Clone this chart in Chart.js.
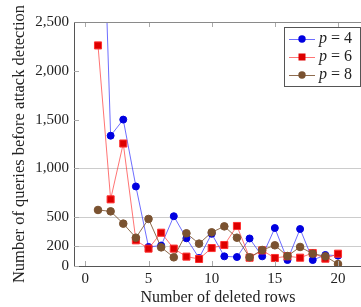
<!DOCTYPE html>
<html>
<head>
<meta charset="utf-8">
<script src="https://cdn.jsdelivr.net/npm/chart.js@4/dist/chart.umd.min.js"></script>
<style>
  body { margin: 0; overflow: hidden; background: #fff; }
  #wrap { width: 368px; height: 307px; }
</style>
</head>
<body>
<div id="wrap"><canvas id="c" width="368" height="307"></canvas></div>
<script>
// data
const rows = [1,2,3,4,5,6,7,8,9,10,11,12,13,14,15,16,17,18,19,20];
const p4 = [5400,1335,1500,815,195,210,510,284,82,330,99,92,282,99,389,61,379,61,113,106];
const p6 = [2260,683,1255,263,178,341,178,96,72,184,215,410,85,160,82,100,85,133,75,126];
const p8 = [574,560,434,290,482,191,89,335,229,345,406,290,89,164,212,102,195,126,99,20];
const xTicks = [0,5,10,15,20];
const yTicks = [0,200,500,1000,1500,2000,2500];
const gridY = [200,500,1000];
const labels = ['4','6','8'];

const FONT = "'Liberation Serif', 'DejaVu Serif', serif";

function pts(vals) {
  return rows.map((r, i) => ({x: r, y: vals[i]}));
}

const colBlue = '#0000e0', colRed = '#dd0000', colBrown = '#7a5230';

const sets = [
  {label: 'p = 4', data: pts(p4), borderColor: 'rgba(60,60,255,0.75)', backgroundColor: colBlue,
   pointBackgroundColor: colBlue, pointBorderColor: colBlue, pointStyle: 'circle', pointRadius: 3.5, order: 2},
  {label: 'p = 6', data: pts(p6), borderColor: 'rgba(255,70,70,0.75)', backgroundColor: colRed,
   pointBackgroundColor: colRed, pointBorderColor: '#ff3030', pointStyle: 'rect', pointRadius: 5, order: 1},
  {label: 'p = 8', data: pts(p8), borderColor: 'rgba(122,82,48,0.85)', backgroundColor: colBrown,
   pointBackgroundColor: colBrown, pointBorderColor: colBrown, pointStyle: 'circle', pointRadius: 3.8, order: 0}
];
sets.forEach(s => { s.borderWidth = 1; s.pointBorderWidth = 1; s.tension = 0; s.fill = false; });

const extras = {
  id: 'extras',
  afterDraw(chart) {
    const ctx = chart.ctx, a = chart.chartArea;
    const xs = chart.scales.x, ys = chart.scales.y;
    ctx.save();
    // inner tick marks
    ctx.strokeStyle = '#aaaaaa';
    ctx.lineWidth = 1;
    ctx.beginPath();
    xTicks.forEach(v => {
      const x = Math.round(xs.getPixelForValue(v)) + 0.5;
      ctx.moveTo(x, a.bottom); ctx.lineTo(x, a.bottom - 5);
      ctx.moveTo(x, a.top); ctx.lineTo(x, a.top + 5);
    });
    yTicks.forEach(v => {
      const y = Math.round(ys.getPixelForValue(v)) + 0.5;
      ctx.moveTo(a.left, y); ctx.lineTo(a.left + 5, y);
    });
    ctx.stroke();
    // top border
    ctx.strokeStyle = '#8a8a8a';
    ctx.beginPath();
    ctx.moveTo(a.left, a.top + 0.5); ctx.lineTo(a.right, a.top + 0.5);
    ctx.stroke();

    // axis titles
    ctx.fillStyle = '#222';
    ctx.font = '16px ' + FONT;
    ctx.textAlign = 'center';
    ctx.textBaseline = 'middle';
    ctx.fillText('Number of deleted rows', (a.left + a.right) / 2, 298);
    ctx.save();
    ctx.translate(20, (a.top + a.bottom) / 2);
    ctx.rotate(-Math.PI / 2);
    ctx.font = '16.5px ' + FONT;
    ctx.fillText('Number of queries before attack detection', 0, 0);
    ctx.restore();

    // legend
    const lx = 284, ly = 27, lw = 77, lh = 60;
    ctx.fillStyle = '#fff';
    ctx.fillRect(lx, ly, lw, lh);
    ctx.strokeStyle = '#555';
    ctx.strokeRect(lx + 0.5, ly + 0.5, lw - 1, lh - 1);
    sets.forEach((s, i) => {
      const cy = 39 + i * 18;
      ctx.strokeStyle = s.borderColor;
      ctx.beginPath();
      ctx.moveTo(289, cy + 0.5); ctx.lineTo(315, cy + 0.5);
      ctx.stroke();
      ctx.fillStyle = s.pointBackgroundColor;
      if (s.pointStyle === 'rect') {
        ctx.fillRect(298.5, cy - 3.5, 7, 7);
      } else {
        ctx.beginPath(); ctx.arc(302, cy, 3.7, 0, Math.PI * 2); ctx.fill();
      }
      ctx.fillStyle = '#222';
      ctx.textAlign = 'left';
      ctx.font = 'italic 16px ' + FONT;
      ctx.fillText('p', 319, cy);
      const pw = ctx.measureText('p').width;
      ctx.font = '16px ' + FONT;
      ctx.fillText(' = ' + labels[i], 319 + pw, cy);
    });
    ctx.restore();
  }
};

new Chart(document.getElementById('c'), {
  type: 'line',
  data: { datasets: sets },
  options: {
    responsive: false,
    animation: false,
    layout: { padding: { top: 22, right: 1, left: 0, bottom: 0 } },
    plugins: { legend: { display: false }, tooltip: { enabled: false } },
    scales: {
      x: {
        type: 'linear', min: -0.9, max: 21.9,
        afterBuildTicks: s => { s.ticks = xTicks.map(v => ({value: v})); },
        afterFit: s => { s.height = 41; },
        grid: { display: false, drawTicks: false },
        border: { display: true, color: '#555', width: 1 },
        ticks: { padding: 4, color: '#222', font: { family: FONT, size: 15 }, callback: v => String(v) }
      },
      y: {
        type: 'linear', min: 0, max: 2500,
        afterBuildTicks: s => { s.ticks = yTicks.map(v => ({value: v})); },
        afterFit: s => { s.width = 74; },
        grid: { drawTicks: false, color: c => gridY.includes(c.tick && c.tick.value) ? '#cccccc' : 'rgba(0,0,0,0)' },
        border: { display: true, color: '#555', width: 1 },
        ticks: { padding: 5, color: '#222', font: { family: FONT, size: 15 }, callback: v => v.toLocaleString('en-US') }
      }
    }
  },
  plugins: [extras]
});
</script>
</body>
</html>
